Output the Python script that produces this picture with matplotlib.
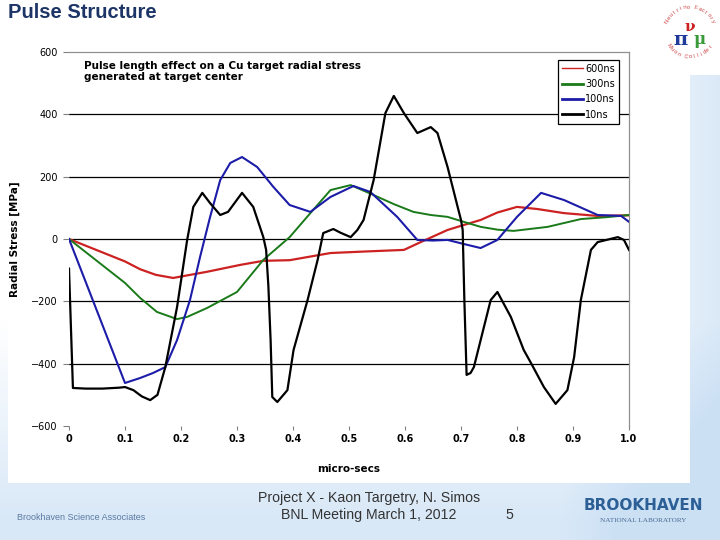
import numpy as np
import matplotlib
matplotlib.use("Agg")
from matplotlib import pyplot as plt
from matplotlib.patches import Rectangle, Circle

# data (time in micro-secs, radial stress in MPa)
x_600 = [0, 0.05, 0.1, 0.127, 0.155, 0.186, 0.247, 0.306, 0.347, 0.394, 0.467, 0.53,
         0.598, 0.628, 0.676, 0.705, 0.735, 0.765, 0.8, 0.837, 0.884, 0.944, 1.0]
y_600 = [0, -36, -72, -97, -115, -125, -105, -83, -70, -68, -45, -40,
         -35, -10, 29, 45, 61, 85, 103, 96, 83, 74, 76]

x_300 = [0, 0.1, 0.127, 0.157, 0.193, 0.211, 0.247, 0.3, 0.347, 0.394, 0.431, 0.467, 0.503,
         0.544, 0.58, 0.615, 0.646, 0.676, 0.705, 0.735, 0.765, 0.794, 0.855, 0.914, 0.96, 1.0]
y_300 = [0, -141, -189, -234, -257, -250, -221, -170, -67, 6, 83, 157, 173,
         141, 112, 87, 77, 71, 55, 39, 30, 26, 39, 64, 70, 77]

x_100 = [0, 0.1, 0.127, 0.15, 0.172, 0.193, 0.216, 0.234, 0.252, 0.27, 0.288, 0.309, 0.336,
         0.365, 0.394, 0.431, 0.467, 0.508, 0.538, 0.586, 0.622, 0.65, 0.676, 0.705, 0.735,
         0.765, 0.8, 0.843, 0.884, 0.944, 0.986, 1.0]
y_100 = [0, -462, -446, -430, -411, -324, -196, -58, 71, 189, 244, 263, 231,
         167, 109, 87, 135, 170, 151, 71, -3, -5, -3, -16, -29,
         -3, 71, 148, 125, 77, 74, 55]

x_10 = [0, 0.007, 0.03, 0.06, 0.09, 0.1, 0.115, 0.13, 0.145, 0.158, 0.172, 0.193, 0.211,
        0.222, 0.238, 0.252, 0.27, 0.284, 0.309, 0.329, 0.347, 0.352, 0.356, 0.36, 0.363,
        0.372, 0.39, 0.401, 0.426, 0.444, 0.454, 0.472, 0.485, 0.503, 0.515, 0.526, 0.544,
        0.565, 0.58, 0.598, 0.622, 0.646, 0.658, 0.676, 0.694, 0.7, 0.703, 0.706, 0.71,
        0.717, 0.723, 0.741, 0.753, 0.765, 0.789, 0.812, 0.825, 0.848, 0.869, 0.89, 0.902,
        0.914, 0.932, 0.944, 0.98, 0.991, 1.0]
y_10 = [-95, -478, -480, -480, -477, -475, -485, -505, -517, -500, -411, -218, -3,
        103, 148, 115, 77, 87, 148, 103, 6, -35, -150, -324, -507,
        -523, -485, -356, -196, -67, 19, 32, 20, 6, 29, 61, 189,
        404, 459, 404, 340, 359, 340, 231, 103, 61, 29, -196, -436,
        -430, -411, -282, -196, -170, -250, -356, -398, -475, -529, -485, -379,
        -196, -35, -10, 6, -3, -35]

series_names = ["600ns", "300ns", "100ns", "10ns"]
x_ticks = [0, 0.1, 0.2, 0.3, 0.4, 0.5, 0.6, 0.7, 0.8, 0.9, 1.0]
x_tick_labels = ["0", "0.1", "0.2", "0.3", "0.4", "0.5", "0.6", "0.7", "0.8", "0.9", "1.0"]
y_ticks = [-600, -400, -200, 0, 200, 400, 600]

fig = plt.figure(figsize=(7.2, 5.4), dpi=100)

# slide background: white top-left, pale blue toward bottom / right
bg = fig.add_axes([0, 0, 1, 1], zorder=-10)
yy, xx = np.mgrid[0:540, 0:720]
t = np.clip(np.clip((yy - 320) / 200, 0, 1) * 0.75 + np.clip((xx - 560) / 160, 0, 1) * 0.7, 0, 1)
c0 = np.array([1.0, 1.0, 1.0])
c1 = np.array([0.80, 0.88, 0.96])
grad = c0[None, None, :] * (1 - t[..., None]) + c1[None, None, :] * t[..., None]
bg.imshow(grad, extent=(0, 720, 540, 0), aspect="auto")
bg.add_patch(Rectangle((8, 0), 682, 483, facecolor="white", edgecolor="none"))
bg.add_patch(Rectangle((690, 0), 30, 75, facecolor="white", edgecolor="none"))
bg.set_xlim(0, 720)
bg.set_ylim(540, 0)
bg.axis("off")

# title
bg.text(8, 12, "Pulse Structure", fontsize=14.5, fontweight="bold", color="#1d3566",
        ha="left", va="center", family="Liberation Sans")

# footer
foot = dict(color="#333333", va="center", family="Liberation Sans", fontsize=10.2)
bg.text(17, 517, "Brookhaven Science Associates", fontsize=6.5, color="#5b7aa3",
        ha="left", va="center", family="Liberation Sans")
bg.text(369, 498, "Project X - Kaon Targetry, N. Simos", ha="center", **foot)
bg.text(369, 515, "BNL Meeting March 1, 2012", ha="center", **foot)
bg.text(509, 515, "5", ha="center", **foot)
bg.text(643, 506, "BROOKHAVEN", fontsize=11, fontweight="bold", color="#2b5f96",
        ha="center", va="center", family="DejaVu Sans")
bg.text(643, 521, "NATIONAL LABORATORY", fontsize=5.2, color="#4a6a90",
        ha="center", va="center", family="Liberation Serif")

# logo top right
bg.add_patch(Circle((690, 32), 28, facecolor="white", edgecolor="none"))
bg.text(681, 40, "\u03c0", fontsize=14, color="#1f3a9a", ha="center", va="center",
        fontweight="bold", family="DejaVu Serif")
bg.text(690, 27, "\u03bd", fontsize=11, color="#cc2222", ha="center", va="center",
        fontweight="bold", family="DejaVu Serif")
bg.text(700, 40, "\u03bc", fontsize=12, color="#3a9a3a", ha="center", va="center",
        fontweight="bold", family="DejaVu Serif")
for txt, a0, a1 in [("Neutrino Factory", 155, 25), ("Muon Collider", 215, 325)]:
    angs = np.linspace(np.radians(a0), np.radians(a1), len(txt))
    for ch, a in zip(txt, angs):
        px = 690 + 25 * np.cos(a)
        py = 32 - 25 * np.sin(a)
        rot = np.degrees(a) - 90 if a0 > a1 else np.degrees(a) + 90
        bg.text(px, py, ch, fontsize=4, color="#cc3333", ha="center", va="center",
                rotation=rot, family="Liberation Sans")

# main chart
ax = fig.add_axes([69 / 720, 1 - 426 / 540, 560 / 720, 374 / 540])
ax.set_facecolor("none")
for yv in y_ticks[1:-1]:
    ax.axhline(yv, color="black", lw=0.9, zorder=1)

l1, = ax.plot(x_600, y_600, color="#cc2222", lw=1.6, label=series_names[0], zorder=3)
l2, = ax.plot(x_300, y_300, color="#1a7a1a", lw=1.4, label=series_names[1], zorder=3)
l3, = ax.plot(x_100, y_100, color="#1c1ca8", lw=1.5, label=series_names[2], zorder=3)
l4, = ax.plot(x_10, y_10, color="black", lw=1.6, label=series_names[3], zorder=4)

ax.set_xlim(0, 1)
ax.set_ylim(-600, 600)
ax.set_xticks(x_ticks)
ax.set_xticklabels(x_tick_labels, fontweight="bold")
ax.set_yticks(y_ticks)
ax.tick_params(axis="y", length=4, color="#808080", labelsize=7, pad=4)
ax.tick_params(axis="x", length=3, color="#808080", labelsize=7, pad=3)
for s in ["left", "bottom"]:
    ax.spines[s].set_visible(False)
for s in ["top", "right"]:
    ax.spines[s].set_color("#909090")
    ax.spines[s].set_linewidth(0.9)

ax.set_ylabel("Radial Stress [MPa]", fontsize=7.5, fontweight="bold", labelpad=8)
ax.set_xlabel("micro-secs", fontsize=7.5, fontweight="bold", labelpad=14)

ax.text(0.027, 0.975, "Pulse length effect on a Cu target radial stress\ngenerated at target center",
        transform=ax.transAxes, ha="left", va="top", fontsize=7.5, fontweight="bold",
        linespacing=1.05)

leg = ax.legend(handles=[l1, l2, l3, l4], loc="upper right", bbox_to_anchor=(0.982, 0.979),
                fontsize=7, frameon=True, fancybox=False, framealpha=1, edgecolor="black",
                handlelength=2.2, handletextpad=0.2, borderpad=0.4, labelspacing=0.55,
                borderaxespad=0)
leg.get_frame().set_linewidth(0.9)
leg_lines = leg.get_lines()
leg_lines[0].set_linewidth(1.0)
for ln in leg_lines[1:]:
    ln.set_linewidth(2.0)

fig.savefig("out.png", dpi=100)
